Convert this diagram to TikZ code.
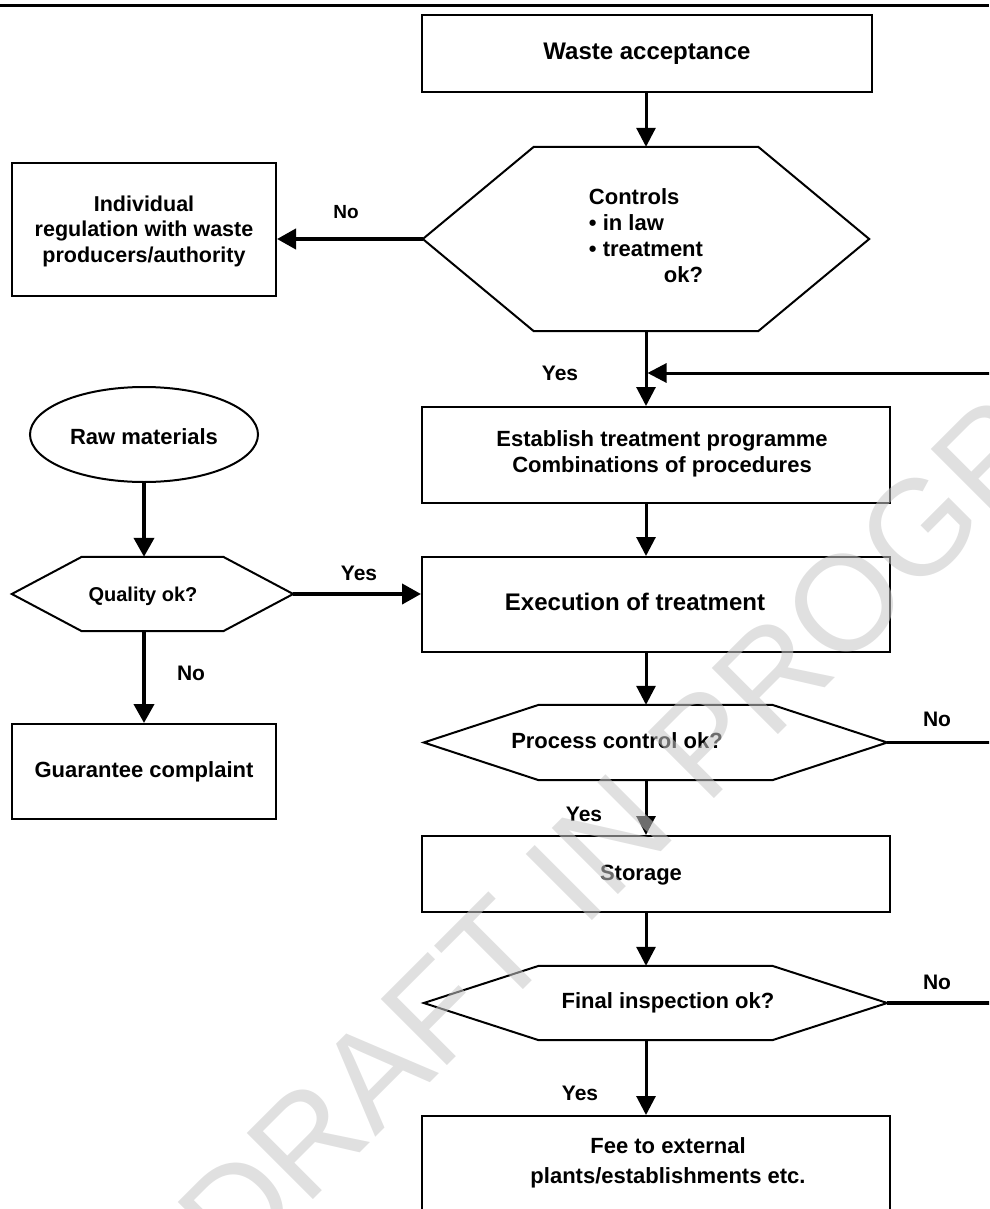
\documentclass[tikz,border=0pt]{standalone}
\usepackage{fontspec}
\setmainfont{Liberation Sans}
\usetikzlibrary{arrows.meta,shapes.geometric}

% outline of a decision hexagon around a named node: #2 = length of the side points
\newcommand\hexoutline[2]{%
  \draw[border] (#1.north west) -- (#1.north east) -- ([xshift=#2]#1.east)
    -- (#1.south east) -- (#1.south west) -- ([xshift=-#2]#1.west) -- cycle;}

\begin{document}
\begin{tikzpicture}[x=1pt,y=-1pt,
  border/.style={draw=black,line width=2pt},
  box/.style={border,rectangle,inner sep=0pt},
  hexa/.style={rectangle,inner sep=0pt},
  flow/.style={line width=3pt,-{Triangle[length=19pt,width=19pt]}},
  heavy/.style={line width=4pt,-{Triangle[length=19pt,width=20pt]}},
  wire/.style={line width=3.2pt},
  txt/.style={font=\fontsize{22}{26}\selectfont\bfseries,align=center,inner sep=0pt},
  big/.style={font=\fontsize{24}{28}\selectfont\bfseries,align=center,inner sep=0pt},
  lbl/.style={font=\fontsize{21}{25}\selectfont\bfseries,inner sep=0pt},
  wm/.style={font=\fontsize{136}{140}\selectfont,text=black!22,text opacity=0.55,inner sep=0pt},
]
\useasboundingbox (0,0) rectangle (989,1209);
\clip (0,0) rectangle (989,1209);

% header rule
\draw[line width=3pt] (0,6) -- (989,6);

% ---- main column
\node[box,big,minimum width=450pt,minimum height=77pt] (waste) at (647,53.5) {Waste acceptance};

\node[hexa,minimum width=224pt,minimum height=184pt] (ctl) at (646,239) {};
\hexoutline{ctl}{111pt}
\coordinate (ctlW) at ([xshift=-111pt]ctl.west);
\node[txt] (ctlT) at (646,238) {\begin{tabular}{@{}l@{}}Controls\\• in law\\• treatment\\\multicolumn{1}{@{}r@{}}{ok?}\end{tabular}};

\node[box,minimum width=264pt,minimum height=133pt] (indiv) at (144,229.5) {};
\node[txt,font=\fontsize{21.5}{25.5}\selectfont\bfseries] (indivT) at (144,231) {Individual\\regulation with waste\\producers/authority};

\node[box,minimum width=468pt,minimum height=96pt] (est) at (656,455) {};
\node[txt] (estT) at (662,454) {Establish treatment programme\\Combinations of procedures};

\node[box,minimum width=468pt,minimum height=95pt] (exec) at (656,604.5) {};
\node[big] (execT) at (635,602) {Execution of treatment};

\node[hexa,minimum width=233pt,minimum height=75pt] (pc) at (655.5,742.5) {};
\hexoutline{pc}{115pt}
\coordinate (pcE) at ([xshift=115pt]pc.east);
\node[txt] (pcT) at (617,741) {Process control ok?};

\node[box,minimum width=468pt,minimum height=76pt] (stor) at (656,874) {};
\node[txt] (storT) at (641,875) {Storage};

\node[hexa,minimum width=233pt,minimum height=74pt] (fi) at (655.5,1003) {};
\hexoutline{fi}{115pt}
\coordinate (fiE) at ([xshift=115pt]fi.east);
\node[txt] (fiT) at (668,1003) {Final inspection ok?};

\node[box,minimum width=468pt,minimum height=144pt] (fee) at (656,1188) {};
\node[txt] (feeT) at (668,1163) {Fee to external\\[4pt]plants/establishments etc.};

% ---- left column
\node[border,ellipse,inner sep=0pt,minimum width=228pt,minimum height=95pt] (raw) at (144,434.5) {};
\node[txt] (rawT) at (144,437) {Raw materials};

\node[hexa,minimum width=141pt,minimum height=74pt] (qual) at (152.5,594) {};
\hexoutline{qual}{70pt}
\coordinate (qualE) at ([xshift=70pt]qual.east);
\node[txt,font=\fontsize{20}{24}\selectfont\bfseries] (qualT) at (143,596) {Quality ok?};

\node[box,minimum width=264pt,minimum height=95pt] (guar) at (144,771.5) {};
\node[txt] (guarT) at (144,772) {Guarantee complaint};

% ---- connectors
\coordinate (spine) at (646,0);
\coordinate (loopR) at (1000,373);

\draw[flow] (spine |- waste.south) -- (spine |- ctl.north);
\draw[heavy] (ctlW) -- (ctlW -| indiv.east);
\draw[flow] (spine |- ctl.south) -- (spine |- est.north);
\draw[wire] (pcE) -- (pcE -| loopR) -- (loopR);
\draw[wire] (fiE) -- (fiE -| loopR) -- (pcE -| loopR);
\draw[flow] (loopR) -- ([xshift=1.5pt]spine |- loopR);
\draw[flow] (spine |- est.south) -- (spine |- exec.north);
\draw[flow] (spine |- exec.south) -- (spine |- pc.north);
\draw[flow] (spine |- pc.south) -- (spine |- stor.north);
\draw[flow] (spine |- stor.south) -- (spine |- fi.north);
\draw[flow] (spine |- fi.south) -- (spine |- fee.north);

\draw[heavy] (raw.south) -- (raw.south |- qual.north);
\draw[heavy] (qualE) -- (qualE -| exec.west);
\draw[heavy] (raw.south |- qual.south) -- (raw.south |- guar.north);

% ---- branch labels
\node[lbl,font=\fontsize{19}{23}\selectfont\bfseries] (noA) at (346,212) {No};
\node[lbl] (yesA) at (560,373) {Yes};
\node[lbl] (yesQ) at (359,573) {Yes};
\node[lbl] (noQ) at (191,673) {No};
\node[lbl] (noP) at (937,719) {No};
\node[lbl] (yesP) at (584,814) {Yes};
\node[lbl] (noF) at (937,982) {No};
\node[lbl] (yesF) at (580,1093) {Yes};

% ---- watermark
\node[wm,rotate=45] (draft) at (711,736) {DRAFT IN PROGRESS};
\end{tikzpicture}
\end{document}
